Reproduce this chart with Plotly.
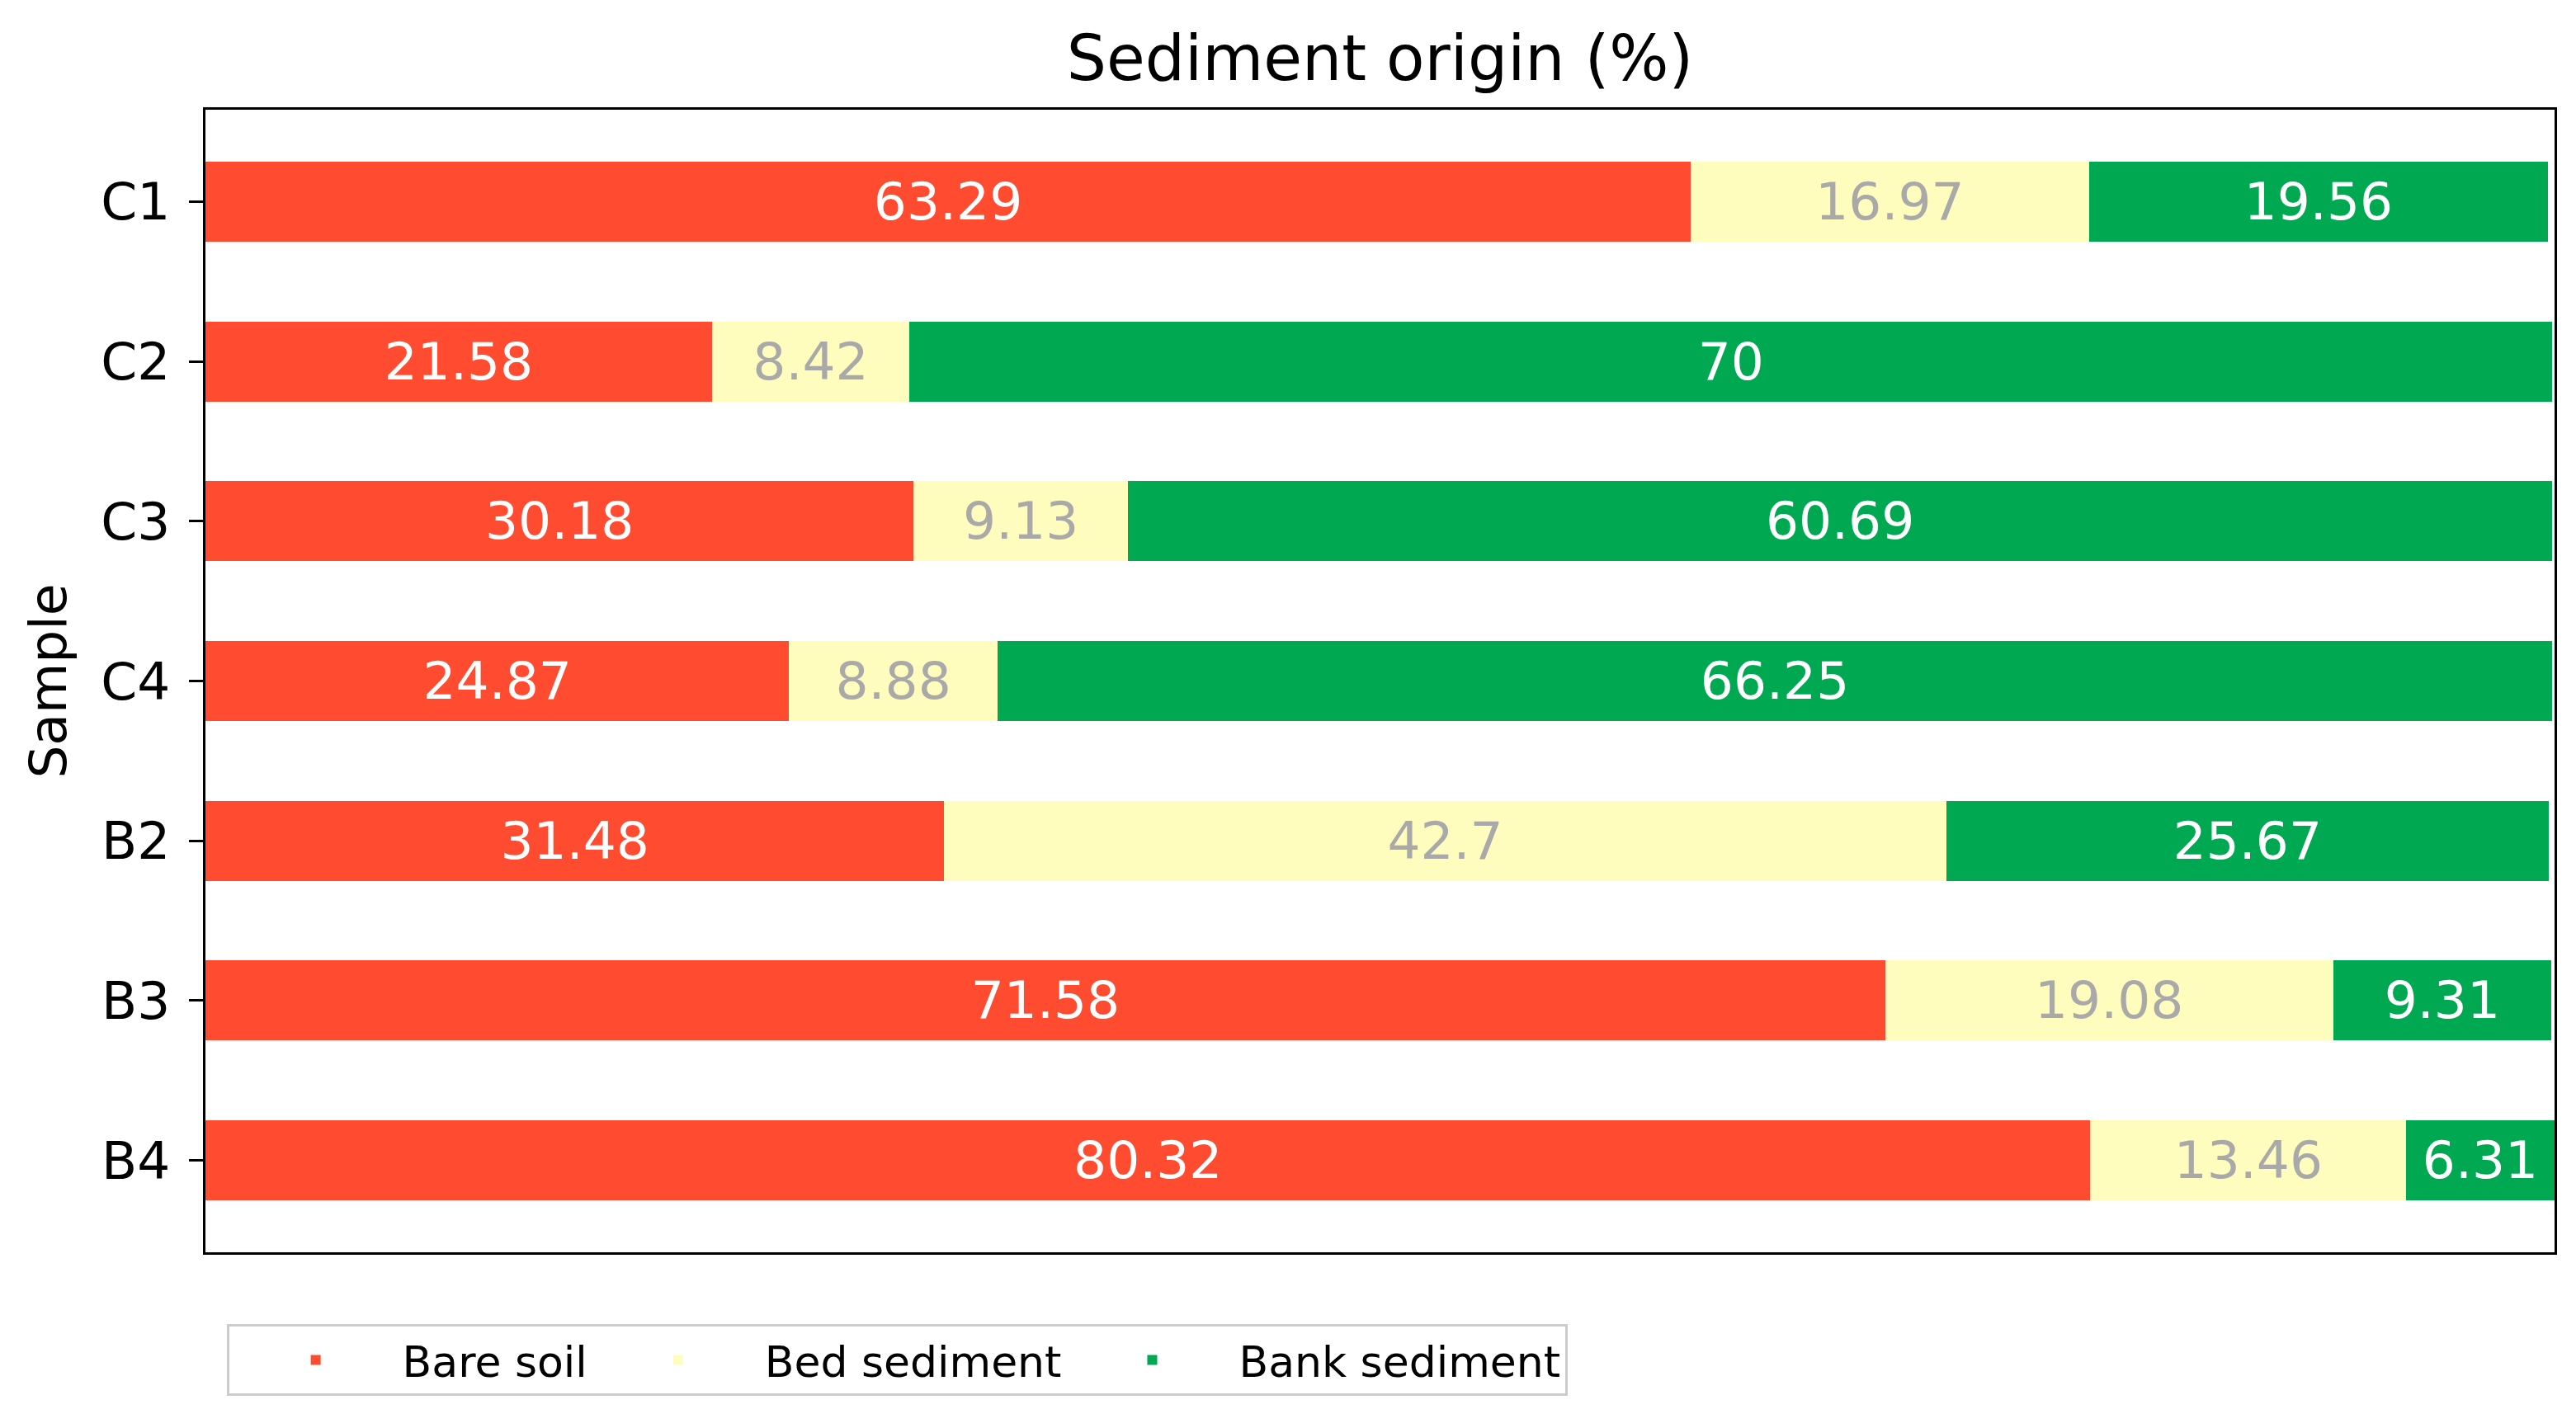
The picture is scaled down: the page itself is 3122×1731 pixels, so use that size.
import plotly.graph_objects as go

samples = ["C1", "C2", "C3", "C4", "B2", "B3", "B4"]
bare_soil = [63.29, 21.58, 30.18, 24.87, 31.48, 71.58, 80.32]
bed_sediment = [16.97, 8.42, 9.13, 8.88, 42.7, 19.08, 13.46]
bank_sediment = [19.56, 70, 60.69, 66.25, 25.67, 9.31, 6.31]

series = [
    ("Bare soil", bare_soil, "#FF4B30", "white"),
    ("Bed sediment", bed_sediment, "#FFFDBD", "#A9A9A9"),
    ("Bank sediment", bank_sediment, "#00A852", "white"),
]

fig = go.Figure()
for name, vals, color, tcolor in series:
    fig.add_trace(go.Bar(
        y=samples, x=vals, name=name, orientation="h",
        marker=dict(color=color, line=dict(width=0)),
        width=0.5,
        text=[f"{v:g}" for v in vals], texttemplate="%{text}",
        textposition="inside", insidetextanchor="middle", textangle=0,
        textfont=dict(color=tcolor, size=63, family="DejaVu Sans"),
        cliponaxis=False,
    ))

fig.update_layout(
    barmode="stack",
    width=3122, height=1731,
    margin=dict(l=249, r=26, t=133, b=213),
    paper_bgcolor="white", plot_bgcolor="white",
    font=dict(family="DejaVu Sans", size=63, color="black"),
    uniformtext=dict(minsize=63, mode="show"),
    title=dict(text="Sediment origin (%)", x=0.5, xref="paper", xanchor="center",
               y=1 - 70 / 1731, yref="container", yanchor="middle",
               font=dict(size=76, color="black")),
    xaxis=dict(range=[0, 100.1], showticklabels=False, ticks="", showgrid=False,
               zeroline=False, showline=True, linecolor="black", linewidth=3, mirror=True),
    yaxis=dict(range=[6.575, -0.575], type="category", showgrid=False, zeroline=False,
               showline=True, linecolor="black", linewidth=3, mirror=True,
               ticks="outside", ticklen=17, tickwidth=3, tickcolor="black",
               ticklabelstandoff=10,
               title=dict(text="Sample", standoff=22, font=dict(size=63))),
    legend=dict(orientation="h", x=0.009, y=-0.063, xanchor="left", yanchor="top",
                font=dict(size=52), bordercolor="#CCCCCC", borderwidth=3,
                bgcolor="white", itemwidth=200, traceorder="normal"),
    showlegend=True,
)

fig.write_html("out.html", config={"displayModeBar": False},
               post_script="document.body.style.margin='0';")
